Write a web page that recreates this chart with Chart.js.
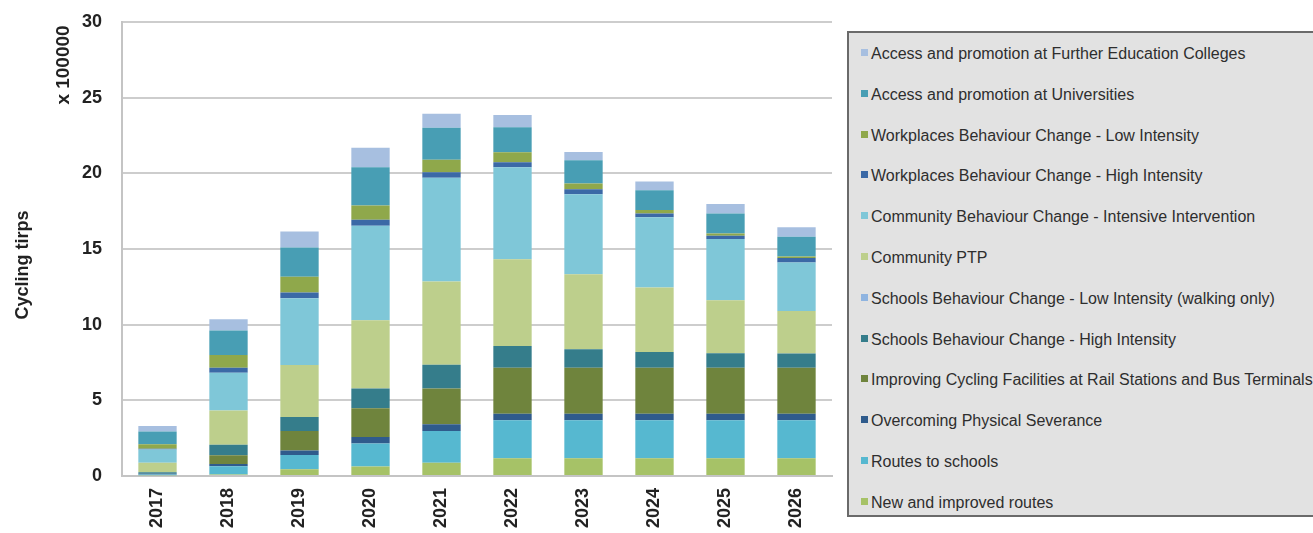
<!DOCTYPE html>
<html>
<head>
<meta charset="utf-8">
<script src="https://cdn.jsdelivr.net/npm/chart.js@4"></script>
<style>
  html, body { margin: 0; padding: 0; background: #fff; }
  body { width: 1313px; height: 533px; position: relative; overflow: hidden; font-family: "Liberation Sans", Arial, sans-serif; }
  #wrap { position: absolute; left: 0; top: 0; width: 840px; height: 533px; }
  #legend {
    position: absolute; left: 847px; top: 31px; width: 470px; height: 486px;
    background: #e2e2e2; border: 2px solid #6a6a6a; box-sizing: border-box;
  }
  .item { position: absolute; left: 12px; font-size: 16px; color: #2e2e2e; white-space: nowrap; line-height: 18px; }
  .sw { display: inline-block; width: 7px; height: 7px; margin-right: 3px; vertical-align: 3px; }
</style>
</head>
<body>
<div id="wrap"><canvas id="chart"></canvas></div>
<div id="legend"></div>
<script>
const YEARS = ['2017', '2018', '2019', '2020', '2021', '2022', '2023', '2024', '2025', '2026'];
const Y_TICKS = [0, 5, 10, 15, 20, 25, 30];

// series, bottom of the stack first
const NEW_ROUTES       = [0.05, 0.10, 0.44, 0.62, 0.88, 1.17, 1.17, 1.17, 1.17, 1.17];
const ROUTES_SCHOOLS   = [0.05, 0.55, 0.95, 1.52, 2.10, 2.51, 2.51, 2.51, 2.51, 2.51];
const SEVERANCE        = [0.05, 0.15, 0.30, 0.44, 0.44, 0.44, 0.44, 0.44, 0.44, 0.44];
const RAIL_BUS         = [0.00, 0.57, 1.28, 1.90, 2.36, 3.04, 3.04, 3.04, 3.04, 3.04];
const SCHOOLS_HIGH     = [0.10, 0.70, 0.93, 1.30, 1.57, 1.43, 1.21, 1.04, 0.95, 0.93];
const SCHOOLS_LOW      = [0, 0, 0, 0, 0, 0, 0, 0, 0, 0];
const COMMUNITY_PTP    = [0.62, 2.25, 3.44, 4.52, 5.51, 5.74, 4.96, 4.26, 3.51, 2.82];
const COMMUNITY_INT    = [0.88, 2.50, 4.41, 6.24, 6.84, 6.07, 5.29, 4.63, 4.04, 3.20];
const WORK_HIGH        = [0.05, 0.33, 0.37, 0.40, 0.37, 0.33, 0.33, 0.26, 0.22, 0.29];
const WORK_LOW         = [0.30, 0.84, 1.04, 0.93, 0.82, 0.66, 0.37, 0.22, 0.15, 0.11];
const UNIVERSITIES     = [0.84, 1.63, 1.94, 2.54, 2.12, 1.65, 1.54, 1.32, 1.32, 1.30];
const FE_COLLEGES      = [0.37, 0.73, 1.06, 1.28, 0.93, 0.82, 0.55, 0.57, 0.62, 0.62];

const SERIES = [
  { label: 'New and improved routes', data: NEW_ROUTES, color: '#a6c267' },
  { label: 'Routes to schools', data: ROUTES_SCHOOLS, color: '#56b8d0' },
  { label: 'Overcoming Physical Severance', data: SEVERANCE, color: '#2f5b8c' },
  { label: 'Improving Cycling Facilities at Rail Stations and Bus Terminals', data: RAIL_BUS, color: '#6f843d' },
  { label: 'Schools Behaviour Change - High Intensity', data: SCHOOLS_HIGH, color: '#357d8b' },
  { label: 'Schools Behaviour Change - Low Intensity (walking only)', data: SCHOOLS_LOW, color: '#8fb4e0' },
  { label: 'Community PTP', data: COMMUNITY_PTP, color: '#bdcf8c' },
  { label: 'Community Behaviour Change - Intensive Intervention', data: COMMUNITY_INT, color: '#7fc7d8' },
  { label: 'Workplaces Behaviour Change - High Intensity', data: WORK_HIGH, color: '#3b69a6' },
  { label: 'Workplaces Behaviour Change - Low Intensity', data: WORK_LOW, color: '#8fa84b' },
  { label: 'Access and promotion at Universities', data: UNIVERSITIES, color: '#489eb4' },
  { label: 'Access and promotion at Further Education Colleges', data: FE_COLLEGES, color: '#a7bfe0' },
];

const FONT = '"Liberation Sans", Arial, sans-serif';

// legend: top item is the top of the stack
const legend = document.getElementById('legend');
SERIES.slice().reverse().forEach((s, i) => {
  const d = document.createElement('div');
  d.className = 'item';
  d.style.top = (12 + i * 40.8) + 'px';
  const sw = document.createElement('span');
  sw.className = 'sw';
  sw.style.background = s.color;
  d.appendChild(sw);
  d.appendChild(document.createTextNode(s.label));
  legend.appendChild(d);
});

// axis title and "x 100000" unit, rotated, left of the y axis
function vText(ctx, text, x, y, size) {
  ctx.save();
  ctx.translate(x, y);
  ctx.rotate(-Math.PI / 2);
  ctx.font = `bold ${size}px ${FONT}`;
  ctx.fillStyle = '#222';
  ctx.textAlign = 'center';
  ctx.textBaseline = 'middle';
  ctx.fillText(text, 0, 0);
  ctx.restore();
}
const axisTexts = {
  id: 'axisTexts',
  afterDraw(chart) {
    vText(chart.ctx, 'Cycling tirps', 23, 265, 18);
    vText(chart.ctx, 'x 100000', 64, 65, 19);
  },
};

new Chart(document.getElementById('chart'), {
  type: 'bar',
  data: {
    labels: YEARS,
    datasets: SERIES.map((s) => ({
      label: s.label,
      data: s.data,
      backgroundColor: s.color,
      borderWidth: 0,
      categoryPercentage: 1,
      barPercentage: 0.54,
    })),
  },
  options: {
    responsive: true,
    maintainAspectRatio: false,
    animation: false,
    layout: { padding: { top: 22, right: 8, left: 0, bottom: 0 } },
    plugins: { legend: { display: false }, tooltip: { enabled: false } },
    scales: {
      x: {
        stacked: true,
        grid: { display: false },
        border: { color: '#c4c4c4', width: 2 },
        ticks: {
          minRotation: 90, maxRotation: 90,
          color: '#222',
          font: { family: FONT, size: 18, weight: 'bold' },
          padding: 4,
        },
        afterFit(scale) { scale.height = 57; },
      },
      y: {
        stacked: true,
        min: 0, max: 30,
        afterBuildTicks(scale) { scale.ticks = Y_TICKS.map((v) => ({ value: v })); },
        // invisible tick marks keep the labels away from the axis
        grid: { color: '#cdcdcd', lineWidth: 2, drawTicks: true, tickLength: 17, tickColor: 'rgba(0,0,0,0)' },
        border: { color: '#c4c4c4', width: 2 },
        ticks: {
          color: '#222',
          padding: 3,
          font: { family: FONT, size: 18, weight: 'bold' },
        },
        afterFit(scale) { scale.width = 122; },
      },
    },
  },
  plugins: [axisTexts],
});
</script>
</body>
</html>
